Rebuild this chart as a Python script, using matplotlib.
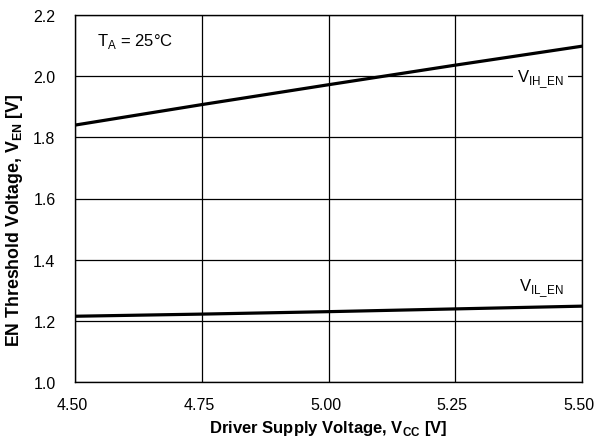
import numpy as np
import matplotlib
matplotlib.use('Agg')
import matplotlib.pyplot as plt
import matplotlib.transforms as mtransforms

plt.rcParams['font.family'] = ['Liberation Sans', 'DejaVu Sans']
plt.rcParams['mathtext.fontset'] = 'custom'
plt.rcParams['mathtext.rm'] = 'Liberation Sans'
plt.rcParams['mathtext.bf'] = 'Liberation Sans:bold'

# Driver supply voltage (V)
vcc = [4.50, 4.75, 5.00, 5.25, 5.50]
# EN threshold voltages (V)
vih_en = [1.840, 1.907, 1.972, 2.036, 2.098]
vil_en = [1.215, 1.222, 1.230, 1.239, 1.248]

x_ticks = [4.50, 4.75, 5.00, 5.25, 5.50]
y_ticks = [1.0, 1.2, 1.4, 1.6, 1.8, 2.0, 2.2]

fig = plt.figure(figsize=(5.96, 4.39), dpi=100)
ax = fig.add_axes([75 / 596, 1 - 383 / 439, 507 / 596, 367 / 439])

ax.plot(vcc, vih_en, color='black', linewidth=2.3, zorder=3)
ax.plot(vcc, vil_en, color='black', linewidth=2.3, zorder=3)

ax.set_xlim(4.5, 5.5)
ax.set_ylim(1.0, 2.2)
ax.set_xticks(x_ticks)
ax.set_xticklabels([f'{v:.2f}' for v in x_ticks])
ax.set_yticks(y_ticks)
ax.set_yticklabels([f'{v:.1f}' for v in y_ticks])
ax.tick_params(length=0, labelsize=11.5, colors='black')
ax.tick_params(axis='x', pad=11)
ax.tick_params(axis='y', pad=14)
ax.grid(True, color='black', linewidth=0.9)
ax.set_axisbelow(True)
for s in ax.spines.values():
    s.set_linewidth(1.0)

# x tick labels sit a little left of their gridlines in the original
shift = mtransforms.ScaledTranslation(-3 / 100, 0, fig.dpi_scale_trans)
for lbl in ax.get_xticklabels():
    lbl.set_transform(lbl.get_transform() + shift)

ax.set_xlabel(r'Driver Supply Voltage, V$_{\mathbf{CC}}$ [V]', fontsize=12, fontweight='bold')
ax.xaxis.set_label_coords(0.5, -0.097)
ax.set_ylabel(r'EN Threshold Voltage, V$_{\mathbf{EN}}$ [V]', fontsize=12.8, fontweight='bold')
ax.yaxis.set_label_coords(-0.098, 0.444)

ax.text(4.543, 2.115, r'T$_{\mathrm{A}}$ = 25°C', fontsize=12, va='center', ha='left')
ax.text(5.372, 1.99, r'V$_{\mathrm{IH\_EN}}$', fontsize=12, va='center', ha='left',
        bbox=dict(facecolor='white', edgecolor='none', pad=3), zorder=4)
ax.text(5.376, 1.309, r'V$_{\mathrm{IL\_EN}}$', fontsize=12, va='center', ha='left', zorder=4)

fig.savefig('out.png', dpi=100)
